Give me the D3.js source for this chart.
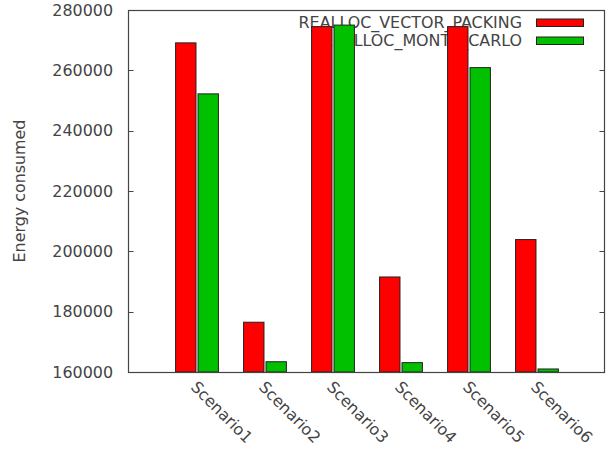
<!DOCTYPE html>
<html><head><meta charset="utf-8">
<script src="https://cdn.jsdelivr.net/npm/d3@7"></script>
<style>
html,body{margin:0;padding:0;background:#fff;}
svg text{font-family:"DejaVu Sans",sans-serif;font-size:15.9px;fill:#444;}
</style>
</head><body>
<svg id="chart" width="614" height="449"></svg>
<script>
const categories = ["Scenario1","Scenario2","Scenario3","Scenario4","Scenario5","Scenario6"];
const vectorPacking = [269100, 176500, 274500, 191500, 274500, 203900];
const monteCarlo = [252200, 163400, 275000, 163100, 260900, 161000];
const seriesNames = ["REALLOC_VECTOR_PACKING", "REALLOC_MONTE_CARLO"];
const seriesColors = ["#ff0000", "#00c000"];
const yTicks = [160000, 180000, 200000, 220000, 240000, 260000, 280000];
const yLabel = "Energy consumed";

const svg = d3.select("#chart");
const L = 129, R = 605, T = 10, B = 372;
const x = d3.scaleLinear().domain([0, categories.length + 1]).range([L, R]);
const y = d3.scaleLinear().domain([160000, 280000]).range([B, T]);

// y tick labels
svg.append("g").selectAll("text").data(yTicks).join("text")
  .attr("x", 113).attr("y", d => y(d)).attr("dy", "0.36em")
  .attr("text-anchor", "end").text(d => d);

// y label
svg.append("text")
  .attr("transform", `translate(19,${(T + B) / 2}) rotate(-90)`)
  .attr("dy", "0.36em").attr("text-anchor", "middle").text(yLabel);

// x labels
svg.append("g").selectAll("text").data(categories).join("text")
  .attr("transform", (d, i) => `translate(${x(i + 1) + 1},${B + 8}) rotate(45)`)
  .attr("dy", "0.72em").attr("text-anchor", "start").text(d => d);

// legend (drawn beneath bars)
const leg = svg.append("g");
seriesNames.forEach((name, i) => {
  const yy = 22.5 + i * 18;
  leg.append("text").attr("x", 522).attr("y", yy).attr("dy", "0.33em")
    .attr("text-anchor", "end").text(name);
  leg.append("rect").attr("x", 536.5).attr("y", yy - 3.5).attr("width", 47).attr("height", 7.5)
    .attr("fill", seriesColors[i]).attr("stroke", "#222").attr("stroke-width", 1);
});

// bars
const bw = 0.3, gap = 0.015;
const series = [vectorPacking, monteCarlo];
series.forEach((vals, s) => {
  svg.append("g").selectAll("rect").data(vals).join("rect")
    .attr("x", (d, i) => s === 0 ? x(i + 1 - gap - bw) : x(i + 1 + gap))
    .attr("width", x(bw) - x(0))
    .attr("y", d => y(d))
    .attr("height", d => y(160000) - y(d))
    .attr("fill", seriesColors[s])
    .attr("stroke", "#222").attr("stroke-width", 1);
});

// border and ticks
const ax = svg.append("g").attr("stroke", "#444").attr("fill", "none");
ax.append("rect").attr("x", L - 0.5).attr("y", T + 0.5).attr("width", R - L).attr("height", B - T)
  .attr("stroke-width", 1.2);
ax.selectAll("path.tl").data(yTicks).join("path")
  .attr("d", d => `M${L - 0.5},${Math.round(y(d)) + 0.5}h5`);
ax.selectAll("path.tr").data(yTicks).join("path")
  .attr("d", d => `M${R - 0.5},${Math.round(y(d)) + 0.5}h-5`);
</script>
</body></html>
